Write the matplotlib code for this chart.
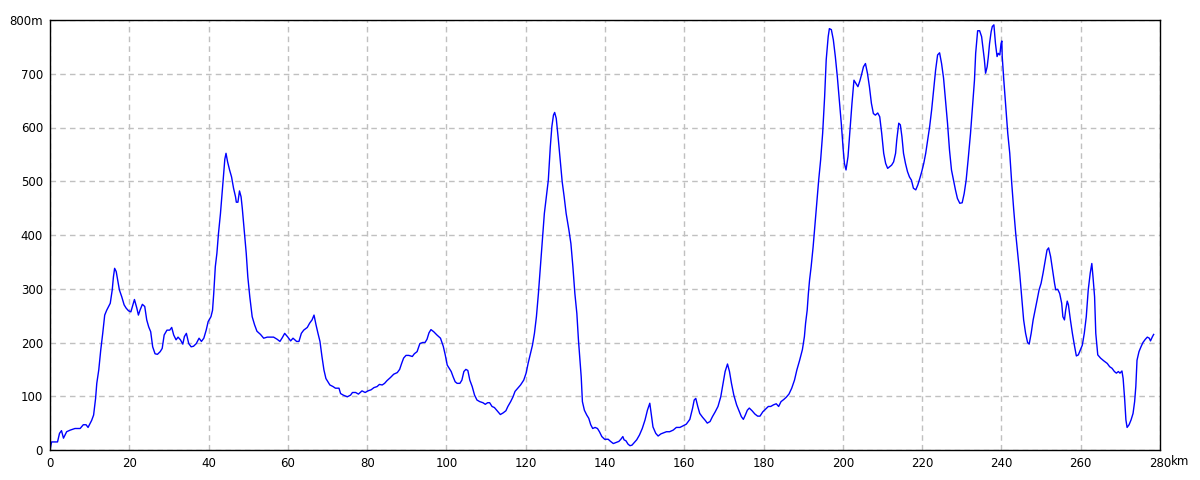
import matplotlib.pyplot as plt

# 距離(km)と標高(m)
dist_km = [0, 0.4, 1.9, 2.4, 2.9, 3.4, 4.2, 5.1, 6.3, 7.6, 8.4, 9.1, 9.6, 10.5, 11, 11.5, 11.8,
           12.3, 12.8, 13.3, 13.8, 14.3, 15.2, 15.7, 16.0, 16.3, 16.7, 17.0, 17.5, 18.1, 18.7,
           19.2, 19.8, 20.4, 20.9, 21.3, 21.9, 22.3, 22.7, 23.3, 23.9, 24.4, 24.9, 25.4, 25.9,
           26.5, 27.1, 27.8, 28.3, 28.8, 29.5, 30.2, 30.7, 31.2, 31.8, 32.3, 32.9, 33.5, 33.9,
           34.4, 35.0, 35.6, 36.2, 36.9, 37.6, 38.2, 38.8, 39.4, 39.9, 40.6, 41.0, 41.3, 41.7,
           42.1, 42.5, 43.0, 43.4, 43.8, 44.1, 44.4, 44.8, 45.3, 45.8, 46.3, 46.8, 47.0, 47.4,
           47.8, 48.2, 48.5, 49.0, 49.5, 49.9, 50.4, 51.0, 51.6, 52.2, 53.1, 53.9, 54.8, 56.4,
           57.3, 58.0, 58.6, 59.2, 60.0, 60.7, 61.3, 62.2, 62.8, 63.4, 64.0, 64.9, 65.5, 66.1,
           66.6, 67.1, 67.6, 68.1, 68.6, 69.1, 69.6, 70.1, 70.6, 71.4, 72.0, 72.9, 73.3, 74.0,
           75.0, 75.8, 76.3, 77.1, 77.8, 78.7, 79.5, 80.2, 81.0, 81.7, 82.5, 83.1, 83.8, 84.4,
           85.0, 85.9, 86.7, 87.6, 88.2, 88.7, 89.2, 89.8, 90.5, 91.4, 91.9, 92.6, 93.3, 94.0,
           94.6, 95.1, 95.6, 96.1, 96.8, 97.6, 98.5, 99.2, 99.7, 100.2, 100.7, 101.2, 101.7,
           102.2, 102.7, 103.4, 103.9, 104.4, 104.9, 105.4, 105.9, 106.5, 107.1, 107.7, 108.4,
           109.2, 109.8, 110.4, 110.9, 111.5, 112.1, 112.8, 113.6, 114.3, 115.0, 115.5, 116.2,
           116.8, 117.3, 118.0, 118.7, 119.5, 120.1, 120.6, 121.2, 121.7, 122.2, 122.7, 123.2,
           123.7, 124.2, 124.7, 125.2, 125.7, 126.2, 126.6, 127.0, 127.3, 127.7, 128.2, 128.7,
           129.2, 129.7, 130.2, 130.9, 131.4, 131.9, 132.4, 132.9, 133.3, 133.7, 134.0, 134.3,
           134.8, 135.4, 135.9, 136.4, 136.9, 137.5, 138.1, 138.6, 139.2, 139.9, 140.8, 141.4,
           142.1, 142.8, 143.5, 144.0, 144.5, 144.8, 145.3, 145.8, 146.3, 146.8, 147.4, 148.0,
           148.7, 149.4, 150.1, 150.7, 151.3, 151.7, 152.1, 152.8, 153.4, 154.1, 154.8, 155.5,
           156.3, 157.2, 158.0, 158.9, 159.7, 160.5, 161.4, 162.1, 162.5, 162.9, 163.4, 163.9,
           164.6, 165.3, 165.8, 166.5, 167.1, 167.8, 168.5, 169.2, 169.8, 170.3, 170.9, 171.4,
           171.9, 172.5, 173.2, 173.9, 174.4, 174.9, 175.4, 175.9, 176.4, 177.1, 177.8, 178.5,
           179.1, 179.8, 180.5, 181.2, 181.8, 182.5, 183.2, 183.8, 184.4, 185.1, 185.7, 186.4,
           187.1, 187.8, 188.4, 189.1, 189.8, 190.3, 190.6, 191.0, 191.3, 191.6, 192.0, 192.5,
           193.0, 193.5, 193.9, 194.4, 194.9, 195.4, 195.8, 196.3, 196.6, 197.1, 197.6, 198.1,
           198.6, 199.1, 199.6, 200.1, 200.4, 200.8, 201.3, 201.8, 202.3, 202.8, 203.3, 203.8,
           204.3, 204.7, 205.2, 205.7, 206.2, 206.7, 207.2, 207.7, 208.2, 208.8, 209.3, 209.8,
           210.3, 210.8, 211.3, 211.8, 212.3, 212.8, 213.3, 213.6, 214.1, 214.5, 214.9, 215.3,
           215.8, 216.3, 216.8, 217.3, 217.8, 218.4, 218.9, 219.4, 219.9, 220.4, 220.9, 221.4,
           221.9, 222.4, 222.9, 223.4, 223.9, 224.4, 224.9, 225.4, 225.9, 226.4, 226.9, 227.4,
           227.9, 228.4, 228.9, 229.5, 230.1, 230.6, 231.1, 231.6, 232.2, 232.7, 233.2, 233.5,
           234.0, 234.5, 235.0, 235.4, 235.7, 236.0, 236.4, 236.7, 237.0, 237.4, 237.7, 238.1,
           238.5, 238.9, 239.2, 239.6, 239.9, 240.1, 240.2, 240.6, 241.1, 241.6, 242.1, 242.6,
           243.1, 243.6, 244.1, 244.6, 245.1, 245.6, 246.1, 246.6, 247.0, 247.5, 248.0, 248.5,
           249.0, 249.5, 250.0, 250.5, 251.0, 251.5, 251.9, 252.4, 252.9, 253.4, 253.7, 254.2,
           254.7, 255.2, 255.5, 255.9, 256.2, 256.6, 256.9, 257.4, 257.9, 258.4, 258.9, 259.4,
           259.9, 260.4, 260.9, 261.4, 261.9, 262.4, 262.8, 263.1, 263.5, 263.8, 264.3, 265.0,
           265.8, 266.7, 267.3, 267.9, 268.5, 269.0, 269.5, 269.9, 270.4, 270.7, 271.1, 271.4,
           271.7, 272.2, 272.7, 273.2, 273.6, 273.9, 274.2, 274.7, 275.2, 275.7, 276.3, 276.8,
           277.3, 277.6, 278.1, 278.4]
elev_m = [0, 15, 15, 31, 36, 22, 34, 37, 40, 40, 47, 47, 42, 55, 65, 96, 124,
          149, 186, 217, 251, 260, 273, 298, 322, 338, 332, 319, 298, 285, 270,
          264, 259, 257, 270, 280, 264, 251, 260, 271, 267, 242, 229, 220, 192,
          179, 178, 183, 189, 214, 223, 223, 228, 214, 205, 210, 205, 197, 211,
          217, 198, 192, 193, 198, 208, 202, 208, 223, 239, 248, 260, 291, 341,
          366, 403, 440, 477, 515, 541, 552, 536, 521, 508, 487, 471, 461, 461,
          482, 471, 450, 409, 366, 322, 285, 248, 233, 221, 215, 208, 210, 210,
          206, 202, 209, 217, 210, 203, 208, 202, 202, 217, 223, 228, 236, 242,
          251, 233, 217, 202, 174, 149, 133, 127, 121, 118, 115, 115, 105, 102,
          99, 102, 107, 107, 104, 110, 107, 110, 112, 116, 118, 122, 121, 124,
          129, 135, 141, 144, 150, 161, 171, 176, 176, 174, 179, 183, 198, 200,
          200, 206, 218, 224, 220, 214, 208, 193, 177, 158, 152, 146, 136,
          127, 124, 124, 130, 146, 150, 148, 130, 118, 102, 93, 90,
          88, 85, 88, 88, 81, 79, 73, 66, 69, 73, 81, 90,
          99, 109, 115, 121, 130, 143, 161, 180, 195, 217, 248, 291,
          341, 391, 440, 471, 502, 564, 602, 623, 628, 617, 580, 540,
          499, 471, 440, 409, 384, 341, 291, 254, 205, 167, 136, 90,
          74, 65, 59, 47, 40, 42, 40, 34, 25, 20, 20, 16,
          12, 14, 16, 20, 25, 19, 17, 11, 8, 9, 14, 19,
          28, 40, 56, 74, 87, 65, 43, 31, 26, 30, 32, 34,
          34, 37, 42, 42, 45, 48, 57, 78, 93, 96, 81, 68,
          61, 55, 50, 53, 62, 71, 81, 99, 124, 146, 160, 146,
          124, 102, 84, 71, 62, 57, 65, 74, 78, 73, 67, 63,
          63, 71, 76, 81, 81, 84, 86, 81, 90, 94, 98, 104,
          115, 130, 149, 167, 187, 211, 236, 260, 291, 316, 341, 378,
          422, 465, 502, 540, 589, 657, 726, 769, 784, 782, 763, 732,
          695, 651, 608, 558, 533, 521, 546, 595, 645, 688, 682, 676,
          687, 698, 713, 719, 701, 676, 645, 626, 623, 627, 620, 589,
          552, 533, 524, 527, 530, 536, 552, 577, 608, 605, 583, 552,
          533, 518, 508, 502, 487, 484, 493, 505, 518, 533, 552, 577,
          602, 633, 670, 707, 735, 739, 719, 692, 651, 608, 558, 521,
          502, 484, 468, 459, 460, 477, 502, 540, 589, 639, 688, 738,
          780, 780, 769, 744, 726, 701, 713, 732, 756, 778, 788, 791,
          756, 732, 738, 735, 756, 761, 732, 688, 639, 589, 552, 496,
          447, 403, 366, 329, 285, 242, 217, 200, 197, 217, 242, 260,
          279, 298, 310, 329, 350, 372, 376, 360, 335, 310, 298, 299,
          291, 273, 248, 242, 260, 277, 270, 242, 217, 195, 175, 177,
          186, 195, 217, 248, 298, 329, 347, 322, 285, 217, 177, 171,
          166, 161, 155, 152, 146, 143, 146, 143, 147, 133, 93, 56,
          42, 47, 56, 68, 90, 118, 167, 183, 192, 200, 206, 210,
          208, 203, 211, 215]

x_ticks = list(range(0, 281, 20))
y_ticks = list(range(0, 801, 100))
x_labels = [str(v) for v in x_ticks]
y_labels = [str(v) for v in y_ticks[:-1]] + ["800m"]

fig = plt.figure(figsize=(12, 4.8), dpi=100)
ax = fig.add_axes([50 / 1200, 30 / 480, 1110 / 1200, 430 / 480])

ax.plot(dist_km, elev_m, color="#0000ff", linewidth=1.0)

ax.set_xlim(0, 280)
ax.set_ylim(0, 800)
ax.set_xticks(x_ticks)
ax.set_xticklabels(x_labels)
ax.set_yticks(y_ticks)
ax.set_yticklabels(y_labels)
ax.tick_params(length=0, labelsize=8.5, pad=5)
ax.grid(True, color="#c0c0c0", linestyle=(0, (4, 3)), linewidth=1.0)
for sp in ax.spines.values():
    sp.set_linewidth(1.0)
    sp.set_color("black")

# "km" after the last tick label
ax.annotate("km", xy=(1, 0), xycoords="axes fraction", xytext=(11, -5),
            textcoords="offset pixels", ha="left", va="top", fontsize=8.5)

fig.savefig("out.png", dpi=100)
